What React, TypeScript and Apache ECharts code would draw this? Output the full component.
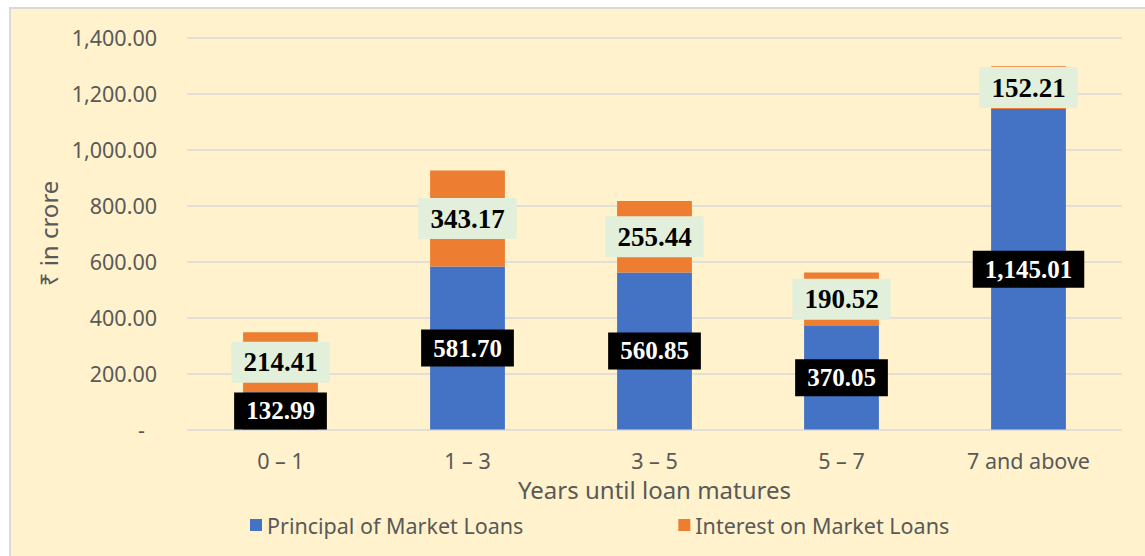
import React, { useEffect, useRef } from "react";
import * as echarts from "echarts";

const categories = ["0 – 1", "1 – 3", "3 – 5", "5 – 7", "7 and above"];
const principal = [132.99, 581.7, 560.85, 370.05, 1145.01];
const interest = [214.41, 343.17, 255.44, 190.52, 152.21];
const seriesNames = ["Principal of Market Loans", "Interest on Market Loans"];
const yAxisName = "₹ in crore";
const xAxisName = "Years until loan matures";

const fmt = (v: number) =>
  v.toLocaleString("en-US", { minimumFractionDigits: 2, maximumFractionDigits: 2 });

const SANS = "'Noto Sans', 'Open Sans', sans-serif";
const SERIF = "'Liberation Serif', 'Times New Roman', serif";

export default function App() {
  const ref = useRef<HTMLDivElement>(null);
  useEffect(() => {
    if (!ref.current) return;
    const chart = echarts.init(ref.current, null, { renderer: "svg" });
    chart.setOption({
      animation: false,
      backgroundColor: "#FFF2CC",
      grid: { left: 176, right: 23, top: 28.5, bottom: 126.5, containLabel: false },
      legend: {
        left: 234,
        top: 500,
        itemWidth: 12,
        itemHeight: 12,
        itemGap: 155,
        icon: "rect",
        textStyle: { fontFamily: SANS, fontSize: 21.5, color: "#595959" },
        data: seriesNames,
      },
      xAxis: {
        type: "category",
        data: categories,
        axisLine: { show: false },
        axisTick: { show: false },
        axisLabel: { fontFamily: SANS, fontSize: 21.5, lineHeight: 22, color: "#595959", margin: 20 },
        name: xAxisName,
        nameLocation: "middle",
        nameGap: 48,
        nameTextStyle: { fontFamily: SANS, fontSize: 24, lineHeight: 24, color: "#595959" },
      },
      yAxis: {
        type: "value",
        min: 0,
        max: 1400,
        interval: 200,
        axisLine: { show: false },
        axisTick: { show: false },
        splitLine: { lineStyle: { color: "#D9D9D9", width: 1.5 } },
        axisLabel: {
          fontFamily: SANS,
          fontSize: 21.5,
          color: "#595959",
          margin: 30,
          formatter: (v: number) => (v === 0 ? "{d|-}" : fmt(v)),
          rich: { d: { fontFamily: SANS, fontSize: 21.5, color: "#595959", padding: [0, 12, 0, 0] } },
        },
        name: yAxisName,
        nameLocation: "middle",
        nameGap: 127,
        nameRotate: 90,
        nameTextStyle: { fontFamily: SANS, fontSize: 24, color: "#595959" },
      },
      series: [
        {
          name: seriesNames[0],
          type: "bar",
          stack: "total",
          barWidth: "40%",
          data: principal,
          itemStyle: { color: "#4472C4" },
          label: {
            show: true,
            position: "inside",
            formatter: (p: any) => fmt(p.value),
            fontFamily: SERIF,
            fontWeight: "bold",
            fontSize: 25,
            lineHeight: 25,
            color: "#FFFFFF",
            backgroundColor: "#000000",
            padding: [6, 12],
          },
        },
        {
          name: seriesNames[1],
          type: "bar",
          stack: "total",
          barWidth: "40%",
          data: interest,
          itemStyle: { color: "#ED7D31" },
          label: {
            show: true,
            position: "inside",
            formatter: (p: any) => fmt(p.value),
            fontFamily: SERIF,
            fontWeight: "bold",
            fontSize: 27,
            lineHeight: 27,
            color: "#000000",
            backgroundColor: "#E2EFDA",
            padding: [7, 12],
          },
        },
      ],
    });
    return () => chart.dispose();
  }, []);
  return (
    <div style={{ position: "fixed", left: 0, top: 0, width: 1145, height: 556, background: "#FFFFFF" }}>
      <div
        style={{
          position: "absolute",
          left: 9,
          top: 7,
          width: 1136,
          height: 549,
          boxSizing: "border-box",
          borderLeft: "2px solid #D9D9D9",
          borderTop: "2px solid #D9D9D9",
          background: "#FFF2CC",
        }}
      >
        <div ref={ref} style={{ width: 1134, height: 547 }} />
      </div>
    </div>
  );
}
